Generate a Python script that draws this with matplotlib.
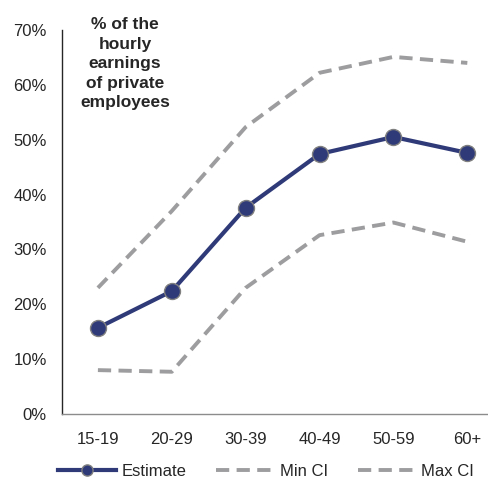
import matplotlib.pyplot as plt
from matplotlib.ticker import FuncFormatter

plt.rcParams['font.family'] = ['Liberation Sans', 'DejaVu Sans']

AGES = ['15-19', '20-29', '30-39', '40-49', '50-59', '60+']
ESTIMATE = [15.7, 22.4, 37.6, 47.4, 50.5, 47.6]
MIN_CI = [8.0, 7.7, 23.0, 32.6, 34.9, 31.4]
MAX_CI = [23.0, 37.0, 52.3, 62.2, 65.1, 64.0]

NAVY = '#2f3a78'
GREY = '#9d9d9f'

fig = plt.figure(figsize=(4.88, 4.83), dpi=100)
ax = fig.add_axes([62 / 488, 69 / 483, 1 - 62 / 488, 384 / 483])

x = range(len(AGES))
ax.plot(x, ESTIMATE, color=NAVY, linewidth=3, marker='o', markersize=11.5,
        markerfacecolor=NAVY, markeredgecolor='#808080', markeredgewidth=1,
        label='Estimate', zorder=3)
ax.plot(x, MIN_CI, color=GREY, linewidth=2.8, dashes=(3.4, 1.9),
        label='Min CI', zorder=2)
ax.plot(x, MAX_CI, color=GREY, linewidth=2.8, dashes=(3.4, 1.9),
        label='Max CI', zorder=2)

ax.set_xlim(-0.486, 5.28)
ax.set_ylim(0, 70)
ax.set_yticks(range(0, 71, 10))
ax.yaxis.set_major_formatter(FuncFormatter(lambda v, p: f'{v:.0f}%'))
ax.set_xticks(list(x), AGES)
ax.tick_params(length=0, labelsize=12, colors='#262626')
ax.tick_params(axis='y', pad=11)
ax.tick_params(axis='x', pad=13)

for s in ['top', 'right']:
    ax.spines[s].set_visible(False)
ax.spines['left'].set_color('#262626')
ax.spines['left'].set_linewidth(1.0)
ax.spines['bottom'].set_color('#8c8c8c')
ax.spines['bottom'].set_linewidth(1.0)

fig.text(125 / 488, 1 - 17 / 483,
         '% of the\nhourly\nearnings\nof private\nemployees',
         ha='center', va='top', fontsize=12.5, fontweight='bold',
         color='#262626', linespacing=1.38)

fig.legend(loc='lower center', bbox_to_anchor=(0.545, -0.022), ncol=3,
           frameon=False, fontsize=12, handlelength=3.5, columnspacing=1.8,
           handletextpad=0.3, labelcolor='#262626', markerscale=0.7)

fig.savefig('out.png', dpi=100)
